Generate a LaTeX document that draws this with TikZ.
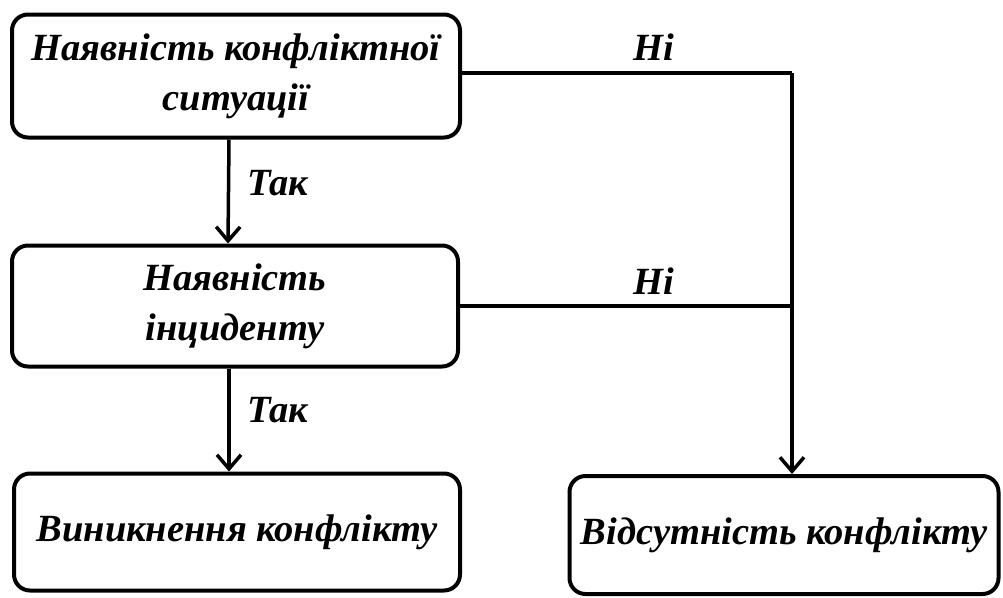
\documentclass[tikz,border=0pt]{standalone}
\usepackage{fontspec}
\setmainfont{Liberation Serif}
\usetikzlibrary{arrows.meta}
\begin{document}
\begin{tikzpicture}[x=1pt,y=-1pt,
  txt/.style={font=\fontsize{38.5}{50}\selectfont\bfseries\itshape},
  box/.style={txt, draw, line width=4pt, rounded corners=16pt, align=center, inner sep=0pt},
  lbl/.style={txt, inner sep=0pt},
  conn/.style={line width=3.5pt},
  arr/.style={conn, -{Straight Barb[length=14pt,width=24pt,line width=3.5pt]}}]
\useasboundingbox (0,0) rectangle (1003,597);
\node[box, minimum width=448pt, minimum height=123pt] (b1) at (236,76) {Наявність конфліктної\\ситуації};
\node[box, minimum width=446pt, minimum height=121pt] (b2) at (235,306) {Наявність\\інциденту};
\node[box, minimum width=446pt, minimum height=117pt] (b3) at (237,532) {Виникнення конфлікту};
\node[box, minimum width=429pt, minimum height=118pt] (b4) at (784,535) {Відсутність конфлікту};
\coordinate (j) at (792,73);
\draw[conn] ([yshift=3pt]b1.east) -- (j);
\draw[arr] (j) -- (b4.north -| j);
\draw[conn] (b2.east) -- (b2.east -| j);
\draw[arr] ([xshift=-7pt]b1.south) -- ([xshift=-7pt]b2.north);
\draw[arr] ([xshift=-6pt]b2.south) -- ([xshift=-8pt]b3.north);
\node[lbl] (n1) at (654,47) {Ні};
\node[lbl] (n2) at (654,281) {Ні};
\node[lbl] (t1) at (278,183) {Так};
\node[lbl] (t2) at (278,410) {Так};
\end{tikzpicture}
\end{document}
